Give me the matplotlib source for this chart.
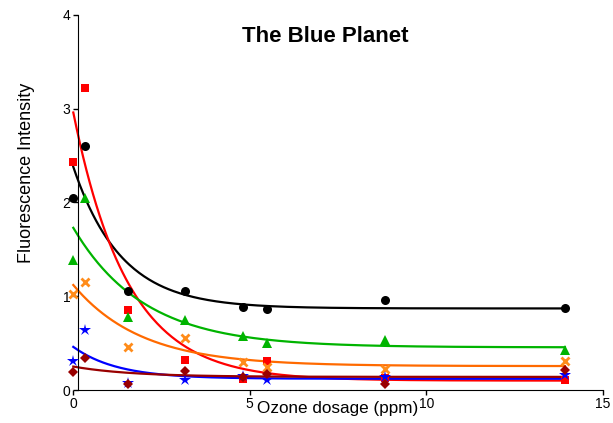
import numpy as np
import matplotlib
matplotlib.use('Agg')
import matplotlib.pyplot as plt

plt.rcParams['font.family'] = ['Liberation Sans', 'DejaVu Sans']

# ozone dosage (ppm)
dose = [0.0, 0.33, 1.56, 3.17, 4.8, 5.5, 8.83, 13.93]

# fluorescence intensity, one list per series
s_black = [2.05, 2.60, 1.06, 1.06, 0.89, 0.86, 0.96, 0.88]
s_red = [2.43, 3.22, 0.85, 0.32, 0.12, 0.31, 0.13, 0.11]
s_green = [1.39, 2.05, 0.78, 0.75, 0.58, 0.50, 0.53, 0.43]
s_orange = [1.02, 1.15, 0.46, 0.56, 0.30, 0.25, 0.22, 0.31]
s_blue = [0.31, 0.64, 0.08, 0.11, 0.15, 0.11, 0.14, 0.16]
s_dred = [0.19, 0.34, 0.06, 0.20, 0.14, 0.17, 0.06, 0.21]

# one-phase decay fits: start, plateau, rate
fit_start = [2.38, 2.96, 1.73, 1.12, 0.46, 0.25]
fit_plateau = [0.87, 0.10, 0.455, 0.255, 0.12, 0.14]
fit_k = [0.74, 0.65, 0.50, 0.52, 0.80, 0.60]

series = [s_black, s_red, s_green, s_orange, s_blue, s_dred]
markers = ['o', 's', '^', 'x', '*', 'D']
msizes = [6.5, 6, 7, 6, 9, 5.5]
mcolors = ['black', '#FF0000', '#00B400', '#FF8C1A', '#0000FF', '#990000']
lcolors = ['black', '#FF0000', '#00B400', '#FF6A00', '#0000FF', '#990000']

fig = plt.figure(figsize=(6.13, 4.23), dpi=100)
ax = fig.add_axes([73.3 / 613, 1 - 390 / 423, 529.4 / 613, 375 / 423])

xs = np.linspace(0, dose[-1], 300)
for i in range(len(series)):
    curve = fit_plateau[i] + (fit_start[i] - fit_plateau[i]) * np.exp(-fit_k[i] * xs)
    ax.plot(xs, curve, color=lcolors[i], lw=1.6, clip_on=False, zorder=2)
for i in range(len(series)):
    if markers[i] == 'x':
        ax.plot(dose, series[i], ls='none', marker='x', ms=msizes[i],
                mew=2, color=mcolors[i], clip_on=False, zorder=3)
    else:
        ax.plot(dose, series[i], ls='none', marker=markers[i], ms=msizes[i],
                mew=0, color=mcolors[i], clip_on=False, zorder=3)

ax.set_xlim(0, 15)
ax.set_ylim(0, 4)
ax.set_xticks([0, 5, 10, 15])
ax.set_yticks([0, 1, 2, 3, 4])
ax.spines['top'].set_visible(False)
ax.spines['right'].set_visible(False)
ax.spines['left'].set_position(('data', 0.12))
ax.spines['bottom'].set_bounds(0.12, 15)
ax.tick_params(direction='out', length=3.5, width=1, labelsize=10, pad=1.5)

ax.text(0.475, 0.929, 'The Blue Planet', transform=ax.transAxes,
        ha='center', va='baseline', fontsize=16, fontweight='bold')
ax.set_xlabel('Ozone dosage (ppm)', fontsize=12.3)
ax.xaxis.set_label_coords(0.5, -0.029)
ax.set_ylabel('Fluorescence Intensity', fontsize=13)
ax.yaxis.set_label_coords(-0.072, 0.579)

fig.savefig('out.png', dpi=100)
